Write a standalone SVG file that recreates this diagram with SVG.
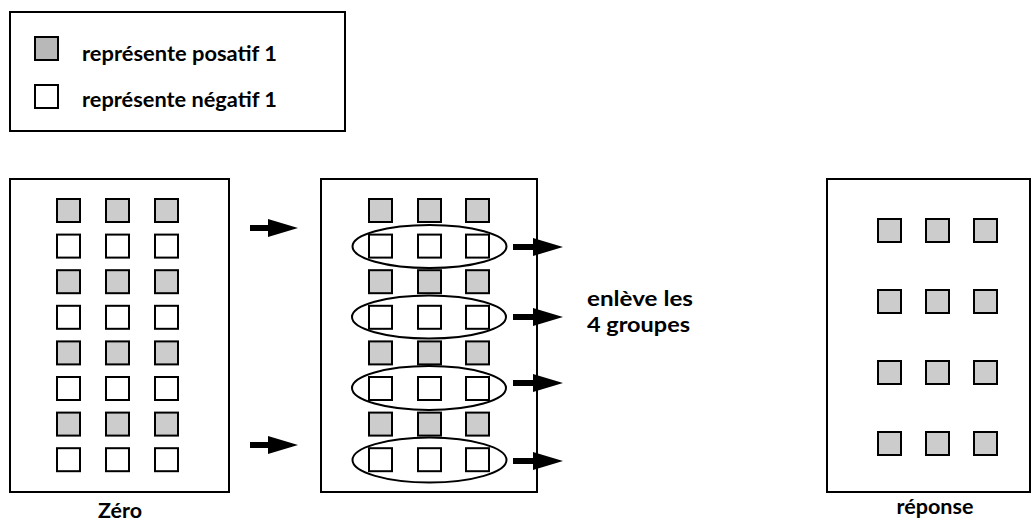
<svg xmlns="http://www.w3.org/2000/svg" xmlns:xlink="http://www.w3.org/1999/xlink" width="1032" height="526" viewBox="0 0 1032 526">
<style>
.box{fill:#fff;stroke:#000;stroke-width:2}
.pos{fill:#cccccc;stroke:#000;stroke-width:2}
.neg{fill:#fff;stroke:#000;stroke-width:2}
.grp{fill:none;stroke:#000;stroke-width:2}
.arr{stroke:#000;stroke-width:6;fill:none;marker-end:url(#head)}
text{font-family:Lato,"Liberation Sans",sans-serif;font-weight:bold;fill:#000}
.t{font-size:20px}
.lab{font-size:21px;text-anchor:middle}
</style>
<defs>
<marker id="head" markerUnits="userSpaceOnUse" markerWidth="30" markerHeight="18" refX="0" refY="9" orient="auto" viewBox="0 0 30 18">
<path d="M0,0 L30,9 L0,18 Z" fill="#000"/>
</marker>
<rect id="p" class="pos" width="23" height="23"/>
<rect id="n" class="neg" width="23" height="23"/>
</defs>
<rect width="1032" height="526" fill="#fff"/>
<g id="legend">
<rect class="box" x="10" y="12" width="335" height="119"/>
<rect x="35" y="37" width="23" height="23" fill="#b8b8b8" stroke="#000" stroke-width="2"/>
<text class="t" x="82" y="61" textLength="195" lengthAdjust="spacingAndGlyphs">représente posatif 1</text>
<rect class="neg" x="35" y="85" width="23" height="23"/>
<text class="t" x="82" y="107" textLength="195" lengthAdjust="spacingAndGlyphs">représente négatif 1</text>
</g>
<g id="zero">
<rect class="box" x="10" y="179" width="219" height="313"/>
<use href="#p" x="57" y="199"/><use href="#p" x="106" y="199"/><use href="#p" x="155" y="199"/>
<use href="#n" x="57" y="234.6"/><use href="#n" x="106" y="234.6"/><use href="#n" x="155" y="234.6"/>
<use href="#p" x="57" y="270.2"/><use href="#p" x="106" y="270.2"/><use href="#p" x="155" y="270.2"/>
<use href="#n" x="57" y="305.8"/><use href="#n" x="106" y="305.8"/><use href="#n" x="155" y="305.8"/>
<use href="#p" x="57" y="341.4"/><use href="#p" x="106" y="341.4"/><use href="#p" x="155" y="341.4"/>
<use href="#n" x="57" y="377"/><use href="#n" x="106" y="377"/><use href="#n" x="155" y="377"/>
<use href="#p" x="57" y="412.6"/><use href="#p" x="106" y="412.6"/><use href="#p" x="155" y="412.6"/>
<use href="#n" x="57" y="448.2"/><use href="#n" x="106" y="448.2"/><use href="#n" x="155" y="448.2"/>
<text class="lab" x="120" y="518" textLength="44" lengthAdjust="spacingAndGlyphs">Zéro</text>
</g>
<g id="groupes">
<rect class="box" x="321" y="179" width="216" height="313"/>
<use href="#p" x="369" y="199"/><use href="#p" x="418" y="199"/><use href="#p" x="466" y="199"/>
<use href="#n" x="369" y="234.6"/><use href="#n" x="418" y="234.6"/><use href="#n" x="466" y="234.6"/>
<use href="#p" x="369" y="270.2"/><use href="#p" x="418" y="270.2"/><use href="#p" x="466" y="270.2"/>
<use href="#n" x="369" y="305.8"/><use href="#n" x="418" y="305.8"/><use href="#n" x="466" y="305.8"/>
<use href="#p" x="369" y="341.4"/><use href="#p" x="418" y="341.4"/><use href="#p" x="466" y="341.4"/>
<use href="#n" x="369" y="377"/><use href="#n" x="418" y="377"/><use href="#n" x="466" y="377"/>
<use href="#p" x="369" y="412.6"/><use href="#p" x="418" y="412.6"/><use href="#p" x="466" y="412.6"/>
<use href="#n" x="369" y="448.2"/><use href="#n" x="418" y="448.2"/><use href="#n" x="466" y="448.2"/>
<ellipse class="grp" cx="429.5" cy="246.5" rx="77" ry="21.5"/>
<ellipse class="grp" cx="429" cy="317" rx="77" ry="21.5"/>
<ellipse class="grp" cx="429" cy="388" rx="77" ry="22"/>
<ellipse class="grp" cx="429.5" cy="460" rx="77" ry="22.5"/>
</g>
<g id="note">
<text x="587" y="306" style="font-size:21px" textLength="106" lengthAdjust="spacingAndGlyphs">enlève les</text>
<text x="587" y="332" style="font-size:21px" textLength="103" lengthAdjust="spacingAndGlyphs">4 groupes</text>
</g>
<g id="reponse">
<rect class="box" x="827" y="179" width="203" height="313"/>
<use href="#p" x="878" y="219"/><use href="#p" x="926" y="219"/><use href="#p" x="974" y="219"/>
<use href="#p" x="878" y="290"/><use href="#p" x="926" y="290"/><use href="#p" x="974" y="290"/>
<use href="#p" x="878" y="361"/><use href="#p" x="926" y="361"/><use href="#p" x="974" y="361"/>
<use href="#p" x="878" y="432"/><use href="#p" x="926" y="432"/><use href="#p" x="974" y="432"/>
<text class="lab" x="935" y="514" textLength="77" lengthAdjust="spacingAndGlyphs">réponse</text>
</g>
<g id="connectors">
<line class="arr" x1="250" y1="228" x2="268" y2="228"/>
<line class="arr" x1="250" y1="445" x2="268" y2="445"/>
<line class="arr" x1="513" y1="247" x2="533" y2="247"/>
<line class="arr" x1="513" y1="317" x2="533" y2="317"/>
<line class="arr" x1="513" y1="383" x2="533" y2="383"/>
<line class="arr" x1="513" y1="461" x2="533" y2="461"/>
</g>
</svg>
